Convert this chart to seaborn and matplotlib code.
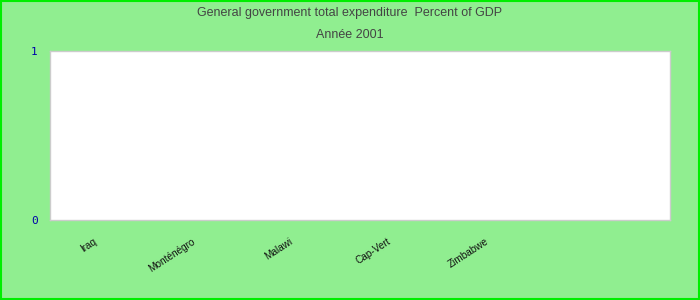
import matplotlib
matplotlib.use("Agg")
import matplotlib.pyplot as plt
import seaborn as sns
import pandas as pd
from matplotlib.patches import Rectangle

countries = ["Iraq", "Monténégro", "Malawi", "Cap-Vert", "Zimbabwe"]
values = [0, 0, 0, 0, 0]
yticks = [0, 1]
title = "General government total expenditure  Percent of GDP"
subtitle = "Année 2001"

sns.set_theme(style="white")
plt.rcParams['font.family'] = ['Liberation Sans', 'DejaVu Sans']

df = pd.DataFrame({"country": countries, "value": values})

fig = plt.figure(figsize=(7, 3), dpi=100, facecolor="#90EE90")
ax = fig.add_axes([50/700, 1-220/300, 620/700, 169/300])
ax.set_facecolor("white")
sns.barplot(data=df, x="country", y="value", ax=ax, color="#4472c4")

ax.set_ylim(0, 1)
ax.set_yticks(yticks)
ax.set_yticklabels([str(t) for t in yticks], color="#0000aa",
                   family="DejaVu Sans Mono", fontsize=8)
ax.set_xlim(-0.44, 5.89)
ax.set_xticks(range(len(countries)))
ax.set_xticklabels(countries, rotation=33, ha="right", rotation_mode="anchor",
                   fontsize=7.2, color="#111111")
ax.tick_params(axis="x", length=0, pad=12)
ax.tick_params(axis="y", length=0, pad=9)
ax.set_xlabel("")
ax.set_ylabel("")
for s in ax.spines.values():
    s.set_color("#cccccc")
    s.set_linewidth(1)

fig.text(0.5, 1-13/300, title, ha="center", va="center", fontsize=9, color="#444444")
fig.text(0.5, 1-35/300, subtitle, ha="center", va="center", fontsize=9, color="#444444")

fig.patches.append(Rectangle((0.001, 0.002), 0.998, 0.996, transform=fig.transFigure,
                             fill=False, edgecolor="#00ee00", linewidth=1.5))

fig.savefig("out.png", dpi=100, facecolor=fig.get_facecolor())
